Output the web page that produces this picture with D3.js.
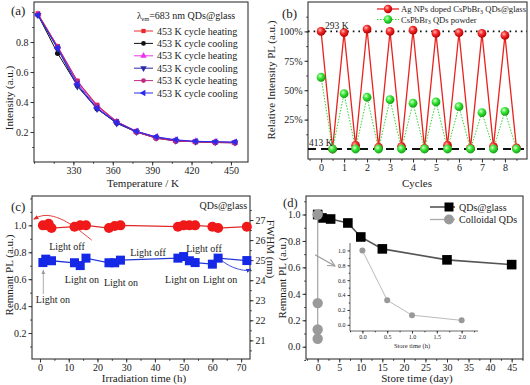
<!DOCTYPE html>
<html>
<head>
<meta charset="utf-8">
<script src="https://cdn.jsdelivr.net/npm/d3@7"></script>
<style>
body { margin: 0; background: #fff; }
text { font-family: "Liberation Serif", "Times New Roman", serif; fill: #222; }
</style>
</head>
<body>
<svg id="chart" width="530" height="385"></svg>
<script>
// ---- (a) temperature cycles
const temps = [303, 318, 333, 348, 363, 378, 393, 408, 423, 438, 453];
const heat1 = [0.99, 0.77, 0.54, 0.38, 0.27, 0.205, 0.165, 0.145, 0.135, 0.133, 0.13];
const cool1 = [0.98, 0.725, 0.51, 0.355, 0.26, 0.2, 0.16, 0.14, 0.135, 0.13, 0.128];
const heat2 = [0.985, 0.765, 0.53, 0.37, 0.268, 0.203, 0.165, 0.145, 0.137, 0.133, 0.13];
const cool2 = [0.98, 0.755, 0.505, 0.355, 0.258, 0.2, 0.162, 0.142, 0.135, 0.132, 0.13];
const heat3 = [0.985, 0.77, 0.54, 0.375, 0.27, 0.2, 0.158, 0.14, 0.135, 0.13, 0.128];
const cool3 = [0.98, 0.76, 0.52, 0.36, 0.265, 0.205, 0.168, 0.148, 0.138, 0.135, 0.133];
const seriesA = [
  {name: "453 K cycle heating", vals: heat1, color: "#e8282a", sym: "square"},
  {name: "453 K cycle cooling", vals: cool1, color: "#111111", sym: "circle"},
  {name: "453 K cycle heating", vals: heat2, color: "#ee33ee", sym: "up"},
  {name: "453 K cycle cooling", vals: cool2, color: "#2a2aa8", sym: "down"},
  {name: "453 K cycle heating", vals: heat3, color: "#c02a80", sym: "circle"},
  {name: "453 K cycle cooling", vals: cool3, color: "#2a2aee", sym: "left"}
];

// ---- (b) heating / cooling cycles
const cycles = [0, 0.5, 1, 1.5, 2, 2.5, 3, 3.5, 4, 4.5, 5, 5.5, 6, 6.5, 7, 7.5, 8, 8.5];
const agGlass = [100, 0, 99, 3, 102, 1.5, 100, 2, 101, 0.5, 98.3, 3, 98.9, 0.5, 98.3, 2, 96.6, 1];
const powder = [61, 0, 47, 0, 44, 0, 42, 0, 39, 0, 40, 0, 36, 0, 31, 0, 32, 0];

// ---- (c) irradiation
const plTime = [1, 2.5, 3, 4, 12, 14, 16, 24, 26, 28, 48, 50, 52, 54, 60, 62, 72];
const plVals = [1.0, 1.0, 1.012, 0.98, 0.99, 1.0, 1.0, 0.98, 0.995, 1.0, 0.99, 1.0, 1.0, 1.0, 0.99, 0.98, 0.99];
const fwTime = [1, 2, 4, 12, 14, 16, 24, 26, 28, 48, 50, 52, 54, 60, 62, 72];
const fwVals = [24.88, 25.05, 24.97, 24.87, 24.73, 25.1, 24.87, 24.87, 25.0, 25.1, 25.18, 24.97, 24.88, 24.8, 25.1, 24.98];

// ---- (d) storage
const storeDays = [0, 1, 3, 7, 10, 15, 30, 45];
const glassVals = [1.0, 0.974, 0.966, 0.936, 0.83, 0.74, 0.657, 0.621];
const colloidDays = [0, 0, 0, 0];
const colloidVals = [1.0, 0.33, 0.13, 0.06];
const insetHours = [0, 0.5, 1.0, 2.0];
const insetVals = [1.0, 0.33, 0.13, 0.06];

const svg = d3.select("#chart");
const defs = svg.append("defs");

function sphere(id, c0, c1, c2) {
  const g = defs.append("radialGradient").attr("id", id).attr("cx", "38%").attr("cy", "35%").attr("r", "65%");
  g.append("stop").attr("offset", "0%").attr("stop-color", c0);
  g.append("stop").attr("offset", "45%").attr("stop-color", c1);
  g.append("stop").attr("offset", "100%").attr("stop-color", c2);
}
sphere("sRed", "#ffb8b8", "#f42a2a", "#b80000");
sphere("sGreen", "#d8ffd0", "#38e838", "#14a014");

function arrowDef(id, color, open) {
  const m = defs.append("marker").attr("id", id).attr("viewBox", "0 0 10 10")
    .attr("refX", open ? 9 : 8).attr("refY", 5).attr("markerWidth", open ? 8 : 6).attr("markerHeight", open ? 8 : 6)
    .attr("orient", "auto-start-reverse");
  if (open) m.append("path").attr("d", "M1,1L9,5L1,9").attr("fill", "none").attr("stroke", color).attr("stroke-width", 1.2);
  else m.append("path").attr("d", "M0,1L10,5L0,9Z").attr("fill", color);
}
arrowDef("arRed", "#e02828", false);
arrowDef("arBlue", "#2438d8", false);
arrowDef("arGray", "#999", false);
arrowDef("arOpen", "#999", true);

const FS = 10;
function styleAxis(sel, fs) {
  sel.select(".domain").remove();
  sel.attr("font-family", "Liberation Serif, Times New Roman, serif").attr("font-size", fs || FS);
  sel.selectAll("line").attr("stroke", "#333");
  sel.selectAll("text").attr("fill", "#222");
}

function panel(b, xd, yd) {
  const x = d3.scaleLinear().domain(xd).range([b.l, b.r]);
  const y = d3.scaleLinear().domain(yd).range([b.b, b.t]);
  const g = svg.append("g");
  return {b, x, y, g};
}
function frame(p) {
  const b = p.b;
  p.g.append("rect").attr("x", b.l).attr("y", b.t).attr("width", b.r - b.l).attr("height", b.b - b.t)
    .attr("fill", "none").attr("stroke", "#333").attr("stroke-width", 1.1);
}
function axisX(p, major, minor, fmt, fs, size) {
  const s = size || 3.5;
  p.g.append("g").attr("transform", `translate(0,${p.b.b})`)
    .call(d3.axisBottom(p.x).tickValues(minor).tickSize(s / 2).tickFormat("")).call(styleAxis, fs);
  p.g.append("g").attr("transform", `translate(0,${p.b.b})`)
    .call(d3.axisBottom(p.x).tickValues(major).tickSize(s).tickPadding(1.5).tickFormat(fmt)).call(styleAxis, fs);
}
function axisY(p, major, minor, fmt, fs, size) {
  const s = size || 3.5;
  p.g.append("g").attr("transform", `translate(${p.b.l},0)`)
    .call(d3.axisLeft(p.y).tickValues(minor).tickSize(s / 2).tickFormat("")).call(styleAxis, fs);
  p.g.append("g").attr("transform", `translate(${p.b.l},0)`)
    .call(d3.axisLeft(p.y).tickValues(major).tickSize(s).tickPadding(2).tickFormat(fmt)).call(styleAxis, fs);
}
function label(txt, x, y, rot, fs, anchor) {
  const t = svg.append("text").attr("font-size", fs || FS).attr("text-anchor", anchor || "middle");
  if (rot) t.attr("transform", `translate(${x},${y}) rotate(${rot})`);
  else t.attr("x", x).attr("y", y);
  t.text(txt);
  return t;
}
const range = (a, b, s) => d3.range(a, b + s / 2, s);

// ================= (a)
const pa = panel({l: 34, r: 248, t: 2, b: 162}, [300, 463], [0, 1.067]);
frame(pa);
axisX(pa, range(330, 450, 30), range(300, 450, 15), d3.format("d"));
axisY(pa, range(0.2, 0.8, 0.2), range(0.1, 1.0, 0.1), d3.format(".1f"));
const symType = {
  square: [d3.symbolSquare, 0], circle: [d3.symbolCircle, 0], up: [d3.symbolTriangle, 0],
  down: [d3.symbolTriangle, 180], left: [d3.symbolTriangle, -90]
};
const lineA = d3.line().x((d, i) => pa.x(temps[i])).y(d => pa.y(d));
seriesA.forEach(s => {
  pa.g.append("path").attr("d", lineA(s.vals)).attr("fill", "none").attr("stroke", s.color).attr("stroke-width", 1);
  const st = symType[s.sym];
  pa.g.selectAll(null).data(s.vals).enter().append("path")
    .attr("d", d3.symbol(st[0], 22))
    .attr("transform", (d, i) => `translate(${pa.x(temps[i])},${pa.y(d)}) rotate(${st[1]})`)
    .attr("fill", s.color);
});
// legend (a)
const lgA = svg.append("text").attr("x", 137).attr("y", 19).attr("font-size", 10);
lgA.append("tspan").text("λ");
lgA.append("tspan").attr("font-size", 6).attr("dy", 2).text("em");
lgA.append("tspan").attr("dy", -2).text("=683 nm QDs@glass");
seriesA.forEach((s, i) => {
  const yy = 31 + i * 12.4;
  svg.append("line").attr("x1", 134).attr("x2", 153).attr("y1", yy).attr("y2", yy).attr("stroke", s.color).attr("stroke-width", 1);
  const st = symType[s.sym];
  svg.append("path").attr("d", d3.symbol(st[0], 18)).attr("transform", `translate(143.5,${yy}) rotate(${st[1]})`).attr("fill", s.color);
  label(s.name, 157, yy + 3.5, 0, 10, "start");
});
label("(a)", 11, 15, 0, 13, "start");
label("Intensity (a.u.)", 13, 98, -90, 11);
label("Temperature / K", 143, 187, 0, 11);

// ================= (b)
const pb = panel({l: 308, r: 527, t: 2, b: 159}, [-0.57, 8.96], [-8.5, 125]);
frame(pb);
axisX(pb, range(0, 8, 1), range(-0.5, 8.5, 0.5), d3.format("d"));
axisY(pb, range(25, 100, 25), range(12.5, 112.5, 12.5), d => d + "%");
pb.g.append("line").attr("x1", pb.b.l).attr("x2", pb.b.r).attr("y1", pb.y(100)).attr("y2", pb.y(100))
  .attr("stroke", "#111").attr("stroke-width", 1.6).attr("stroke-dasharray", "1.6,4");
pb.g.append("line").attr("x1", pb.b.l).attr("x2", pb.b.r).attr("y1", pb.y(0)).attr("y2", pb.y(0))
  .attr("stroke", "#111").attr("stroke-width", 2).attr("stroke-dasharray", "8,5");
const lineB = vals => d3.line().x((d, i) => pb.x(cycles[i])).y(d => pb.y(d))(vals);
pb.g.append("path").attr("d", lineB(agGlass)).attr("fill", "none").attr("stroke", "#e8231f").attr("stroke-width", 1.3);
pb.g.append("path").attr("d", lineB(powder)).attr("fill", "none").attr("stroke", "#2ed82e").attr("stroke-width", 1).attr("stroke-dasharray", "1.5,1.5");
pb.g.selectAll(null).data(agGlass).enter().append("circle")
  .attr("cx", (d, i) => pb.x(cycles[i])).attr("cy", d => pb.y(d)).attr("r", 4.4).attr("fill", "url(#sRed)");
pb.g.selectAll(null).data(powder).enter().append("circle")
  .attr("cx", (d, i) => pb.x(cycles[i])).attr("cy", d => pb.y(d)).attr("r", 4.4).attr("fill", "url(#sGreen)");
label("293 K", 325, 29, 0, 9.5, "start");
label("413 K", 309, 146, 0, 9.5, "start");
// legend (b)
svg.append("line").attr("x1", 377).attr("x2", 399).attr("y1", 9).attr("y2", 9).attr("stroke", "#e8231f").attr("stroke-width", 1.3);
svg.append("circle").attr("cx", 388).attr("cy", 9).attr("r", 4.2).attr("fill", "url(#sRed)");
svg.append("line").attr("x1", 377).attr("x2", 399).attr("y1", 19.5).attr("y2", 19.5).attr("stroke", "#2ed82e").attr("stroke-dasharray", "1.5,1.5");
svg.append("circle").attr("cx", 388).attr("cy", 19.5).attr("r", 4.2).attr("fill", "url(#sGreen)");
const lgB1 = svg.append("text").attr("x", 401).attr("y", 12).attr("font-size", 8.6);
lgB1.append("tspan").text("Ag NPs doped CsPbBr");
lgB1.append("tspan").attr("font-size", 6).attr("dy", 1.5).text("3");
lgB1.append("tspan").attr("dy", -1.5).text(" QDs@glass");
const lgB2 = svg.append("text").attr("x", 401).attr("y", 22.5).attr("font-size", 8.6);
lgB2.append("tspan").text("CsPbBr");
lgB2.append("tspan").attr("font-size", 6).attr("dy", 1.5).text("3");
lgB2.append("tspan").attr("dy", -1.5).text(" QDs powder");
label("(b)", 282, 18, 0, 13, "start");
label("Relative Intensity PL (a.u.)", 275, 80, -90, 11);
label("Cycles", 417, 187, 0, 11);

// ================= (c)
const pc = panel({l: 32, r: 250, t: 196, b: 359}, [-2.79, 73.1], [0.007, 1.218]);
const yR = d3.scaleLinear().domain([20.07, 28.2]).range([359, 196]);
frame(pc);
axisX(pc, range(0, 70, 10), range(0, 70, 5), d3.format("d"));
axisY(pc, range(0.2, 1.0, 0.2), range(0.1, 1.2, 0.1), d3.format(".1f"));
pc.g.append("g").attr("transform", `translate(${pc.b.r},0)`)
  .call(d3.axisRight(yR).tickValues(range(20.5, 27.5, 0.5)).tickSize(1.75).tickFormat("")).call(styleAxis);
pc.g.append("g").attr("transform", `translate(${pc.b.r},0)`)
  .call(d3.axisRight(yR).tickValues(range(21, 27, 1)).tickSize(3.5).tickPadding(2).tickFormat(d3.format("d"))).call(styleAxis);
const linePL = d3.line().x((d, i) => pc.x(plTime[i])).y(d => pc.y(d));
const lineFW = d3.line().x((d, i) => pc.x(fwTime[i])).y(d => yR(d));
pc.g.append("path").attr("d", linePL(plVals)).attr("fill", "none").attr("stroke", "#e02828").attr("stroke-width", 1.3);
pc.g.append("path").attr("d", lineFW(fwVals)).attr("fill", "none").attr("stroke", "#2438d8").attr("stroke-width", 1.3);
pc.g.selectAll(null).data(plVals).enter().append("circle")
  .attr("cx", (d, i) => pc.x(plTime[i])).attr("cy", d => pc.y(d)).attr("r", 5).attr("fill", "#f01818");
pc.g.selectAll(null).data(fwVals).enter().append("rect")
  .attr("x", (d, i) => pc.x(fwTime[i]) - 4.5).attr("y", d => yR(d) - 4.5).attr("width", 9).attr("height", 9).attr("fill", "#1428e6");
// annotations (c), in data units
const curve = d3.line().curve(d3.curveBasis);
const redArc = [[18, 0.89], [15.1, 0.94], [10.4, 1.015], [5.8, 1.064], [1.15, 1.082], [-2.1, 1.047]];
pc.g.append("path").attr("d", curve(redArc.map(d => [pc.x(d[0]), pc.y(d[1])])))
  .attr("fill", "none").attr("stroke", "#e02828").attr("stroke-width", 0.9).attr("marker-end", "url(#arRed)");
const blueArc = [[62, 25.1], [66.1, 24.68], [69.7, 24.52], [72, 24.47], [73.3, 24.55]];
pc.g.append("path").attr("d", curve(blueArc.map(d => [pc.x(d[0]), yR(d[1])])))
  .attr("fill", "none").attr("stroke", "#2438d8").attr("stroke-width", 0.9).attr("marker-end", "url(#arBlue)");
pc.g.append("line").attr("x1", pc.x(1.15)).attr("x2", pc.x(1.15)).attr("y1", pc.y(0.49)).attr("y2", pc.y(0.665))
  .attr("stroke", "#999").attr("stroke-width", 0.8).attr("marker-end", "url(#arGray)");
const notesC = [
  {t: "Light off", x: 9.4, y: 0.846}, {t: "Light off", x: 37.6, y: 0.80}, {t: "Light off", x: 57.1, y: 0.829},
  {t: "Light on", x: 14.6, y: 0.60}, {t: "Light on", x: 28.2, y: 0.574}, {t: "Light on", x: 49.5, y: 0.60},
  {t: "Light on", x: 62.7, y: 0.599}, {t: "Light on", x: 4.5, y: 0.45}
];
notesC.forEach(n => label(n.t, pc.x(n.x), pc.y(n.y) + 3.5, 0, 10));
label("QDs@glass", pc.x(72.1), pc.y(1.15) + 3.5, 0, 10, "end");
label("(c)", 11, 211, 0, 13, "start");
label("Remnant PL (a.u.)", 13, 275, -90, 11);
label("Irradiation time (h)", 144, 382, 0, 11);

// ================= (d)
const pd = panel({l: 306, r: 523, t: 196, b: 359}, [-2.71, 47.63], [-0.093, 1.14]);
frame(pd);
axisX(pd, range(0, 45, 5), range(-2.5, 47.5, 2.5), d3.format("d"));
axisY(pd, range(0, 1, 0.2), range(-0.1, 1.1, 0.1), d3.format(".1f"));
const lineD = d3.line().x((d, i) => pd.x(storeDays[i])).y(d => pd.y(d));
pd.g.append("path").attr("d", lineD(glassVals)).attr("fill", "none").attr("stroke", "#555").attr("stroke-width", 1.6);
pd.g.selectAll(null).data(glassVals).enter().append("rect")
  .attr("x", (d, i) => pd.x(storeDays[i]) - 4.8).attr("y", d => pd.y(d) - 4.8).attr("width", 9.6).attr("height", 9.6).attr("fill", "#000");
const lineC = d3.line().x((d, i) => pd.x(colloidDays[i])).y(d => pd.y(d));
pd.g.append("path").attr("d", lineC(colloidVals)).attr("fill", "none").attr("stroke", "#aaa").attr("stroke-width", 1.3);
pd.g.selectAll(null).data(colloidVals).enter().append("circle")
  .attr("cx", (d, i) => pd.x(colloidDays[i])).attr("cy", d => pd.y(d)).attr("r", 5.2).attr("fill", "#9a9a9a");
pd.g.append("line").attr("x1", pd.x(-0.6)).attr("y1", pd.y(0.696)).attr("x2", pd.x(4.0)).attr("y2", pd.y(0.611))
  .attr("stroke", "#999").attr("stroke-width", 1.1).attr("marker-end", "url(#arOpen)");
// inset
const pi = panel({l: 350, r: 478, t: 243, b: 331}, [-0.25, 2.33], [-0.083, 1.1]);
pi.g.append("line").attr("x1", pi.b.l).attr("x2", pi.b.r).attr("y1", pi.b.b).attr("y2", pi.b.b).attr("stroke", "#444").attr("stroke-width", 0.8);
pi.g.append("line").attr("x1", pi.b.l).attr("x2", pi.b.l).attr("y1", pi.b.t).attr("y2", pi.b.b).attr("stroke", "#444").attr("stroke-width", 0.8);
axisX(pi, range(0, 2, 0.5), range(-0.25, 2.25, 0.25), d3.format(".1f"), 6, 2.5);
axisY(pi, range(0, 1, 0.2), range(0.1, 1.0, 0.2), d3.format(".1f"), 6, 2.5);
const lineI = d3.line().x((d, i) => pi.x(insetHours[i])).y(d => pi.y(d));
pi.g.append("path").attr("d", lineI(insetVals)).attr("fill", "none").attr("stroke", "#bbb").attr("stroke-width", 1);
pi.g.selectAll(null).data(insetVals).enter().append("circle")
  .attr("cx", (d, i) => pi.x(insetHours[i])).attr("cy", d => pi.y(d)).attr("r", 3).attr("fill", "#999");
label("Store time (h)", 412, 348, 0, 6.5);
// legend (d)
svg.append("line").attr("x1", 430).attr("x2", 455).attr("y1", 207).attr("y2", 207).attr("stroke", "#555").attr("stroke-width", 1.6);
svg.append("rect").attr("x", 444.5).attr("y", 202.5).attr("width", 9).attr("height", 9).attr("fill", "#000");
svg.append("line").attr("x1", 430).attr("x2", 455).attr("y1", 219.5).attr("y2", 219.5).attr("stroke", "#aaa").attr("stroke-width", 1.3);
svg.append("circle").attr("cx", 449).attr("cy", 219.5).attr("r", 5).attr("fill", "#9a9a9a");
label("QDs@glass", 459, 210.5, 0, 10, "start");
label("Colloidal QDs", 459, 223, 0, 10, "start");
label("(d)", 283, 207, 0, 12.5, "start");
label("Remnant PL (a.u.)", 286, 278, -90, 11);
label("FWHM (nm)", 267, 249, 90, 11);
label("Store time (day)", 417, 382, 0, 11);
</script>
</body>
</html>
